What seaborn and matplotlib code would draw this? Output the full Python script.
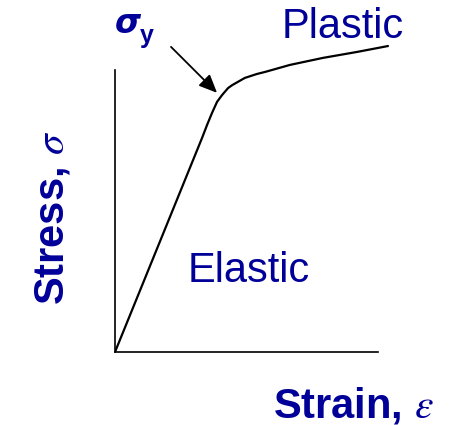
import matplotlib
matplotlib.use("Agg")
import matplotlib.pyplot as plt
import seaborn as sns
import pandas as pd

# -------------------------------
# DATA (strain / stress, normalised to axis length)
# -------------------------------
strain = [0.0, 0.331, 0.350, 0.369, 0.388, 0.407, 0.418, 0.430, 0.445,
          0.475, 0.494, 0.540, 0.570, 0.665, 0.791, 0.920, 1.038]
stress = [0.0, 0.759, 0.805, 0.848, 0.887, 0.911, 0.923, 0.936, 0.946,
          0.962, 0.972, 0.986, 0.993, 1.018, 1.043, 1.064, 1.085]

yield_point = (0.388, 0.919)
yield_label_pos = (0.213, 1.082)

label_strain = "Strain, "
label_stress = "Stress, "
label_elastic = "Elastic"
label_plastic = "Plastic"

df = pd.DataFrame({"strain": strain, "stress": stress})

sns.set_theme(style="white")
plt.rcParams["font.family"] = ["Liberation Sans", "DejaVu Sans"]
plt.rcParams["mathtext.fontset"] = "stix"

BLUE = "#000099"
W, H = 454, 425

fig = plt.figure(figsize=(W / 100, H / 100), dpi=100)
ax = fig.add_axes([115 / W, 73 / H, 280 / W, 312 / H])

sns.lineplot(data=df, x="strain", y="stress", color="black", lw=1.6,
             sort=False, estimator=None, ax=ax)

ax.set_xlim(0, 280 / 263)
ax.set_ylim(0, 312 / 282)
ax.set_xticks([])
ax.set_yticks([])
ax.set_xlabel("")
ax.set_ylabel("")
for side in ["top", "right"]:
    ax.spines[side].set_visible(False)
for side in ["left", "bottom"]:
    ax.spines[side].set_color("black")
    ax.spines[side].set_linewidth(1.2)
    ax.spines[side].set_bounds(0, 1)
ax.patch.set_alpha(0)

# arrow to yield point
ax.annotate("", xy=yield_point, xytext=yield_label_pos,
            arrowprops=dict(arrowstyle="-|>,head_length=0.5,head_width=0.22",
                            mutation_scale=22, color="black", lw=1.3,
                            shrinkA=0, shrinkB=0),
            annotation_clip=False)


def px(x, y):
    return x / W, (H - y) / H


# sigma_y label
fig.text(*px(115, 33), "σ", color=BLUE, fontsize=24, fontweight="bold",
         fontstyle="italic", family="DejaVu Sans", ha="left", va="baseline")
fig.text(*px(140, 43), "y", color=BLUE, fontsize=18, fontweight="bold",
         ha="left", va="baseline")

fig.text(*px(282, 38), label_plastic, color=BLUE, fontsize=30,
         ha="left", va="baseline")
fig.text(*px(188, 282), label_elastic, color=BLUE, fontsize=30,
         ha="left", va="baseline")

# axis labels
fig.text(*px(273, 417), label_strain + r"$\varepsilon$", color=BLUE,
         fontsize=30, fontweight="bold", ha="left", va="baseline")
fig.text(*px(63, 305), label_stress + r"$\sigma$", color=BLUE,
         fontsize=30, fontweight="bold", rotation=90, rotation_mode="anchor",
         ha="left", va="baseline")

fig.savefig("out.png", dpi=100)
